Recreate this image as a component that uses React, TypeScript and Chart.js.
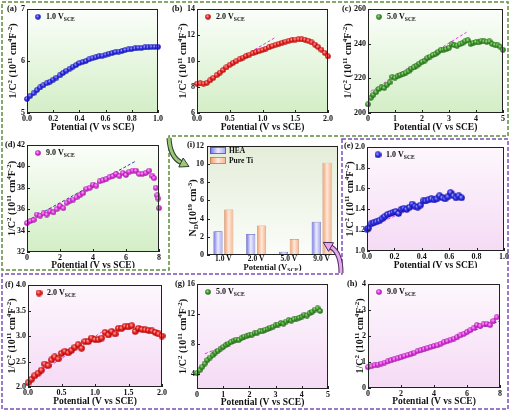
import { useEffect, useRef } from 'react';
import { Chart, registerables } from 'chart.js';

Chart.register(...registerables);

const SERIF = "'Liberation Serif', 'Times New Roman', serif";

// ---- data: Mott-Schottky curves, HEA (a-d) and pure Ti (e-h) ----
const potA = [0, 0.025, 0.05, 0.075, 0.1, 0.125, 0.15, 0.175, 0.2, 0.225, 0.25, 0.275, 0.3, 0.325, 0.35, 0.375, 0.4, 0.425, 0.45, 0.475, 0.5, 0.525, 0.55, 0.575, 0.6, 0.625, 0.65, 0.675, 0.7, 0.725, 0.75, 0.775, 0.8, 0.825, 0.85, 0.875, 0.9, 0.925, 0.95, 0.975, 1.0];
const invC2A = [5.27, 5.33, 5.38, 5.44, 5.49, 5.53, 5.57, 5.6, 5.64, 5.68, 5.72, 5.77, 5.81, 5.85, 5.89, 5.92, 5.96, 5.98, 6.0, 6.03, 6.05, 6.07, 6.09, 6.1, 6.12, 6.14, 6.15, 6.17, 6.18, 6.19, 6.21, 6.22, 6.23, 6.24, 6.25, 6.25, 6.26, 6.26, 6.27, 6.27, 6.27];
const fitPotA = [0.25, 0.55];
const fitA = [5.74, 6.13];

const pot0to2 = [0, 0.05, 0.1, 0.15, 0.2, 0.25, 0.3, 0.35, 0.4, 0.45, 0.5, 0.55, 0.6, 0.65, 0.7, 0.75, 0.8, 0.85, 0.9, 0.95, 1.0, 1.05, 1.1, 1.15, 1.2, 1.25, 1.3, 1.35, 1.4, 1.45, 1.5, 1.55, 1.6, 1.65, 1.7, 1.75, 1.8, 1.85, 1.9, 1.95, 2.0];
const invC2B = [8.25, 8.27, 8.26, 8.32, 8.5, 8.7, 8.9, 9.1, 9.3, 9.5, 9.7, 9.85, 9.98, 10.12, 10.25, 10.38, 10.48, 10.58, 10.68, 10.76, 10.84, 10.94, 11.04, 11.14, 11.24, 11.32, 11.4, 11.48, 11.55, 11.6, 11.64, 11.66, 11.65, 11.62, 11.55, 11.42, 11.25, 11.06, 10.86, 10.62, 10.35];
const fitPotB = [0.55, 1.18];
const fitB = [9.9, 11.75];

const potC = [0, 0.1, 0.2, 0.3, 0.4, 0.5, 0.6, 0.7, 0.8, 0.9, 1.0, 1.1, 1.2, 1.3, 1.4, 1.5, 1.6, 1.7, 1.8, 1.9, 2.0, 2.1, 2.2, 2.3, 2.4, 2.5, 2.6, 2.7, 2.8, 2.9, 3.0, 3.1, 3.2, 3.3, 3.4, 3.5, 3.6, 3.7, 3.8, 3.9, 4.0, 4.1, 4.2, 4.3, 4.4, 4.5, 4.6, 4.7, 4.8, 4.9, 5.0];
const invC2C = [205.0, 208.8, 210.5, 212.0, 213.8, 214.8, 214.5, 216.3, 217.6, 220.8, 220.4, 221.2, 221.9, 222.5, 223.2, 224.0, 225.6, 226.2, 227.3, 228.4, 229.5, 230.2, 231.6, 232.5, 233.4, 234.0, 235.2, 236.4, 236.5, 236.8, 237.6, 239.5, 239.0, 238.8, 239.6, 240.2, 241.3, 241.8, 239.8, 240.5, 240.9, 240.6, 241.6, 241.2, 241.0, 241.2, 239.8, 239.3, 239.0, 238.2, 236.4];
const fitPotC = [0.1, 3.65];
const fitC = [212.5, 246.5];

const potD = [0, 0.2, 0.4, 0.6, 0.8, 1.0, 1.2, 1.4, 1.6, 1.8, 2.0, 2.2, 2.4, 2.6, 2.8, 3.0, 3.2, 3.4, 3.6, 3.8, 4.0, 4.2, 4.4, 4.6, 4.8, 5.0, 5.2, 5.4, 5.6, 5.8, 6.0, 6.2, 6.4, 6.6, 6.8, 7.0, 7.2, 7.4, 7.6, 7.7, 7.8, 7.9, 7.95, 8.0];
const invC2D = [34.7, 34.9, 35.0, 35.5, 35.4, 35.6, 35.5, 35.8, 35.7, 36.0, 36.3, 36.1, 36.6, 36.8, 36.9, 37.1, 37.3, 37.5, 37.9, 38.0, 38.3, 38.2, 38.6, 38.7, 38.8, 39.0, 39.1, 39.3, 39.1, 39.4, 39.2, 39.5, 39.6, 39.6, 39.3, 39.3, 39.4, 39.6, 39.1, 38.9, 38.0, 37.3, 37.0, 36.1];
const fitPotD = [0, 6.6];
const fitD = [34.9, 40.5];

const potE = [0, 0.01, 0.03, 0.05, 0.07, 0.09, 0.11, 0.13, 0.15, 0.17, 0.19, 0.21, 0.23, 0.25, 0.27, 0.29, 0.31, 0.33, 0.35, 0.37, 0.39, 0.41, 0.43, 0.45, 0.47, 0.49, 0.51, 0.53, 0.55, 0.57, 0.59, 0.61, 0.63, 0.65, 0.67, 0.69];
const invC2E = [1.21, 1.22, 1.26, 1.27, 1.28, 1.29, 1.31, 1.33, 1.35, 1.36, 1.37, 1.38, 1.36, 1.4, 1.41, 1.4, 1.42, 1.45, 1.43, 1.42, 1.44, 1.48, 1.48, 1.49, 1.5, 1.49, 1.5, 1.53, 1.51, 1.5, 1.52, 1.56, 1.53, 1.51, 1.53, 1.51];
const fitPotE = [0.05, 0.65];
const fitE = [1.25, 1.58];

const invC2F = [2.08, 2.15, 2.22, 2.27, 2.33, 2.45, 2.42, 2.53, 2.59, 2.55, 2.66, 2.7, 2.67, 2.72, 2.78, 2.83, 2.76, 2.89, 2.89, 2.96, 2.93, 2.93, 2.96, 3.07, 3.02, 3.09, 3.04, 3.15, 3.15, 3.19, 3.18, 3.2, 3.09, 3.15, 3.13, 3.12, 3.11, 3.1, 3.07, 3.04, 3.0];
const fitPotF = [0.2, 1.15];
const fitF = [2.3, 3.12];

const potG = [0, 0.1, 0.2, 0.3, 0.4, 0.5, 0.6, 0.7, 0.8, 0.9, 1.0, 1.1, 1.2, 1.3, 1.4, 1.5, 1.6, 1.7, 1.8, 1.9, 2.0, 2.1, 2.2, 2.3, 2.4, 2.5, 2.6, 2.7, 2.8, 2.9, 3.0, 3.1, 3.2, 3.3, 3.4, 3.5, 3.6, 3.7, 3.8, 3.9, 4.0, 4.1, 4.2, 4.3, 4.4, 4.5, 4.6, 4.7];
const invC2G = [4.1, 4.5, 4.95, 5.4, 5.85, 6.2, 6.5, 6.85, 7.1, 7.4, 7.6, 7.85, 8.05, 8.25, 8.45, 8.6, 8.55, 8.8, 9.0, 9.05, 9.2, 9.25, 9.45, 9.5, 9.7, 9.7, 9.9, 10.0, 10.2, 10.3, 10.5, 10.6, 10.8, 10.7, 11.0, 11.2, 11.1, 11.3, 11.4, 11.5, 11.65, 11.9, 11.8, 12.1, 12.3, 12.6, 12.75, 12.4];
const fitPotG = [0.3, 4.7];
const fitG = [6.7, 12.9];

const potH = [0, 0.2, 0.4, 0.6, 0.8, 1.0, 1.2, 1.4, 1.6, 1.8, 2.0, 2.2, 2.4, 2.6, 2.8, 3.0, 3.2, 3.4, 3.6, 3.8, 4.0, 4.2, 4.4, 4.6, 4.8, 5.0, 5.2, 5.4, 5.6, 5.8, 6.0, 6.2, 6.4, 6.6, 6.8, 7.0, 7.2, 7.4, 7.6, 7.8];
const invC2H = [0.8, 0.83, 0.87, 0.9, 0.94, 0.98, 1.02, 1.06, 1.1, 1.14, 1.18, 1.23, 1.27, 1.31, 1.36, 1.42, 1.45, 1.49, 1.53, 1.58, 1.62, 1.64, 1.7, 1.76, 1.8, 1.86, 1.9, 1.95, 2.02, 2.08, 2.15, 2.22, 2.3, 2.42, 2.38, 2.45, 2.47, 2.42, 2.58, 2.72];
const fitPotH = [2.5, 8.0];
const fitH = [1.3, 2.58];

// ---- data: donor density (i) ----
const formPotentials = ['1.0 V', '2.0 V', '5.0 V', '9.0 V'];
const ndHEA = [2.6, 2.3, 0.35, 3.65];
const ndTi = [5.0, 3.25, 1.75, 10.15];
const ndTicks = [0, 2, 4, 6, 8, 10, 12];

type Seg = [string, number]; // 0 normal, 1 superscript, -1 subscript

const yTitleC2: Seg[] = [['1/C', 0], ['2', 1], [' (10', 0], ['11', 1], [' cm', 0], ['4', 1], ['F', 0], ['-2', 1], [')', 0]];
const xTitlePot: Seg[] = [['Potential (V vs SCE)', 0]];
const yTitleNd: Seg[] = [['N', 0], ['D', -1], ['(10', 0], ['19', 1], [' cm', 0], ['-3', 1], [')', 0]];
const xTitleSce: Seg[] = [['Potential (V', 0], ['SCE', -1], [')', 0]];

function segFont(size: number, kind: number) {
  return `bold ${kind === 0 ? size : size * 0.7}px ${SERIF}`;
}

function drawRich(ctx: CanvasRenderingContext2D, segs: Seg[], size: number, x: number, y: number, align: 'left' | 'center', vertical: boolean) {
  ctx.save();
  ctx.translate(x, y);
  if (vertical) ctx.rotate(-Math.PI / 2);
  let total = 0;
  for (const [t, k] of segs) {
    ctx.font = segFont(size, k);
    total += ctx.measureText(t).width;
  }
  let cx = align === 'center' ? -total / 2 : 0;
  ctx.textBaseline = 'middle';
  ctx.textAlign = 'left';
  ctx.fillStyle = '#111';
  for (const [t, k] of segs) {
    ctx.font = segFont(size, k);
    const dy = k === 1 ? -size * 0.32 : k === -1 ? size * 0.3 : 0;
    ctx.fillText(t, cx, dy);
    cx += ctx.measureText(t).width;
  }
  ctx.restore();
}

const BALLS = {
  blue: ['#b0b0ff', '#2a2ae8', '#10109a'],
  red: ['#ffb4b4', '#ee2020', '#a00000'],
  green: ['#b0e098', '#3a9a28', '#1a5a10'],
  magenta: ['#ffb8ff', '#e030e0', '#901090'],
};

function makeBall(colors: string[], d: number) {
  const c = document.createElement('canvas');
  c.width = d;
  c.height = d;
  const g = c.getContext('2d')!;
  const r = d / 2;
  const grad = g.createRadialGradient(r * 0.75, r * 0.7, 0.2, r, r, r);
  grad.addColorStop(0, colors[0]);
  grad.addColorStop(0.5, colors[1]);
  grad.addColorStop(1, colors[2]);
  g.fillStyle = grad;
  g.beginPath();
  g.arc(r, r, r - 0.2, 0, Math.PI * 2);
  g.fill();
  return c;
}

interface ScatterSpec {
  tag: string;
  tagPos: [number, number];
  legend: string;
  box: [number, number, number, number];
  area: [number, number, number, number];
  xs: number[];
  ys: number[];
  fitXs: number[];
  fitYs: number[];
  xTicks: number[];
  yTicks: number[];
  yMin: number;
  xDec: number;
  yDec: number;
  ball: string[];
  ballSize: number;
  fitColor: string;
  bg: [string, string];
  yTitleX: number;
  xTitleY: number;
}

const GREEN_BG: [string, string] = ['#fbfefa', '#d3eec6'];
const PINK_BG: [string, string] = ['#fdf7fd', '#f5dbf5'];
const PINK_FIT = '#e040e0';
const BLUE_FIT = '#3434d0';

const panels: ScatterSpec[] = [
  { tag: '(a)', tagPos: [7, 9], legend: '1.0 V', box: [3, 2, 167, 132], area: [27, 8, 158, 113], xs: potA, ys: invC2A, fitXs: fitPotA, fitYs: fitA, xTicks: [0, 0.2, 0.4, 0.6, 0.8, 1.0], yTicks: [5, 6, 7], yMin: 5, xDec: 1, yDec: 0, ball: BALLS.blue, ballSize: 6, fitColor: PINK_FIT, bg: GREEN_BG, yTitleX: 13, xTitleY: 128 },
  { tag: '(b)', tagPos: [172, 9], legend: '2.0 V', box: [172, 2, 166, 132], area: [197, 8, 328, 113], xs: pot0to2, ys: invC2B, fitXs: fitPotB, fitYs: fitB, xTicks: [0, 0.5, 1.0, 1.5, 2.0], yTicks: [6, 8, 10, 12, 14], yMin: 6, xDec: 1, yDec: 0, ball: BALLS.red, ballSize: 6, fitColor: PINK_FIT, bg: GREEN_BG, yTitleX: 183, xTitleY: 128 },
  { tag: '(c)', tagPos: [342, 9], legend: '5.0 V', box: [340, 2, 171, 132], area: [368, 8, 503, 113], xs: potC, ys: invC2C, fitXs: fitPotC, fitYs: fitC, xTicks: [0, 1, 2, 3, 4, 5], yTicks: [200, 220, 240, 260], yMin: 200, xDec: 0, yDec: 0, ball: BALLS.green, ballSize: 6, fitColor: PINK_FIT, bg: GREEN_BG, yTitleX: 348, xTitleY: 128 },
  { tag: '(d)', tagPos: [5, 145], legend: '9.0 V', box: [3, 137, 167, 131], area: [27, 145, 159, 252], xs: potD, ys: invC2D, fitXs: fitPotD, fitYs: fitD, xTicks: [0, 2, 4, 6, 8], yTicks: [32, 34, 36, 38, 40, 42], yMin: 32, xDec: 0, yDec: 0, ball: BALLS.magenta, ballSize: 6, fitColor: BLUE_FIT, bg: GREEN_BG, yTitleX: 12, xTitleY: 265.5 },
  { tag: '(e)', tagPos: [344, 146], legend: '1.0 V', box: [343, 140, 168, 128], area: [367, 145, 504, 251], xs: potE, ys: invC2E, fitXs: fitPotE, fitYs: fitE, xTicks: [0, 0.2, 0.4, 0.6, 0.8, 1.0], yTicks: [1.0, 1.2, 1.4, 1.6, 1.8, 2.0], yMin: 1, xDec: 1, yDec: 1, ball: BALLS.blue, ballSize: 7, fitColor: PINK_FIT, bg: PINK_BG, yTitleX: 350, xTitleY: 266 },
  { tag: '(f)', tagPos: [5, 285], legend: '2.0 V', box: [3, 275, 166, 134], area: [28, 285, 162, 387], xs: pot0to2, ys: invC2F, fitXs: fitPotF, fitYs: fitF, xTicks: [0, 0.5, 1.0, 1.5, 2.0], yTicks: [2.0, 2.5, 3.0, 3.5, 4.0], yMin: 2, xDec: 1, yDec: 1, ball: BALLS.red, ballSize: 7, fitColor: PINK_FIT, bg: PINK_BG, yTitleX: 12, xTitleY: 402 },
  { tag: '(g)', tagPos: [175, 284], legend: '5.0 V', box: [170, 275, 168, 134], area: [197, 284, 328, 389], xs: potG, ys: invC2G, fitXs: fitPotG, fitYs: fitG, xTicks: [0, 1, 2, 3, 4, 5], yTicks: [4, 8, 12, 16], yMin: 2, xDec: 0, yDec: 0, ball: BALLS.green, ballSize: 6, fitColor: PINK_FIT, bg: PINK_BG, yTitleX: 183, xTitleY: 403 },
  { tag: '(h)', tagPos: [347, 284], legend: '9.0 V', box: [340, 275, 171, 134], area: [368, 284, 500, 388], xs: potH, ys: invC2H, fitXs: fitPotH, fitYs: fitH, xTicks: [0, 2, 4, 6, 8], yTicks: [0, 1, 2, 3, 4], yMin: 0, xDec: 0, yDec: 0, ball: BALLS.magenta, ballSize: 6, fitColor: BLUE_FIT, bg: PINK_BG, yTitleX: 360, xTitleY: 402 },
];

const TICK_FONT = { family: SERIF, size: 8, weight: 'bold' as const };

function frameAndTicks(chart: Chart, xTicksToo: boolean) {
  const { ctx, chartArea: a } = chart;
  ctx.save();
  ctx.strokeStyle = '#222';
  ctx.lineWidth = 1;
  ctx.strokeRect(Math.round(a.left) + 0.5, Math.round(a.top) + 0.5, Math.round(a.width) - 1, Math.round(a.height) - 1);
  ctx.beginPath();
  const ys = chart.scales.y;
  for (const t of ys.ticks) {
    const py = Math.round(ys.getPixelForValue(t.value)) + 0.5;
    ctx.moveTo(a.left, py);
    ctx.lineTo(a.left + 3, py);
  }
  if (xTicksToo) {
    const xs = chart.scales.x;
    for (const t of xs.ticks) {
      const px = Math.round(xs.getPixelForValue(t.value)) + 0.5;
      ctx.moveTo(px, a.bottom);
      ctx.lineTo(px, a.bottom - 3);
    }
  }
  ctx.stroke();
  ctx.restore();
}

function fillArea(chart: Chart, top: string, bottom: string) {
  const { ctx, chartArea: a } = chart;
  const g = ctx.createLinearGradient(0, a.top, 0, a.bottom);
  g.addColorStop(0, top);
  g.addColorStop(1, bottom);
  ctx.save();
  ctx.fillStyle = g;
  ctx.fillRect(a.left, a.top, a.width, a.height);
  ctx.restore();
}

function ScatterPanel({ spec }: { spec: ScatterSpec }) {
  const ref = useRef<HTMLCanvasElement>(null);
  const [bl, bt, bw, bh] = spec.box;

  useEffect(() => {
    if (!ref.current) return;
    const s = spec;
    const [ax0, ay0, ax1, ay1] = s.area;
    const ball = makeBall(s.ball, s.ballSize);

    const deco = {
      id: 'deco',
      beforeDraw(chart: Chart) {
        fillArea(chart, s.bg[0], s.bg[1]);
      },
      afterDraw(chart: Chart) {
        const { ctx, chartArea: a } = chart;
        frameAndTicks(chart, true);
        drawRich(ctx, yTitleC2, 10, s.yTitleX - bl, (a.top + a.bottom) / 2, 'center', true);
        drawRich(ctx, xTitlePot, 9.5, (a.left + a.right) / 2, s.xTitleY - bt, 'center', false);
        drawRich(ctx, [[s.tag, 0]], 8.5, s.tagPos[0] - bl, s.tagPos[1] - bt, 'left', false);
        ctx.drawImage(ball, a.left + 11 - s.ballSize / 2, a.top + 8 - s.ballSize / 2);
        drawRich(ctx, [[s.legend, 0], ['SCE', -1]], 8, a.left + 19, a.top + 8, 'left', false);
      },
    };

    const chart = new Chart(ref.current, {
      type: 'scatter',
      data: {
        datasets: [
          {
            data: s.xs.map((x, i) => ({ x, y: s.ys[i] })),
            pointStyle: ball,
            pointRadius: 3,
            clip: 4,
          },
          {
            data: s.fitXs.map((x, i) => ({ x, y: s.fitYs[i] })),
            showLine: true,
            borderColor: s.fitColor,
            borderWidth: 1,
            borderDash: [3, 2],
            pointRadius: 0,
          },
        ],
      },
      options: {
        animation: false,
        responsive: true,
        maintainAspectRatio: false,
        layout: { padding: { left: 0, top: ay0 - bt, right: bl + bw - ax1, bottom: 0 } },
        plugins: { legend: { display: false }, tooltip: { enabled: false } },
        scales: {
          x: {
            type: 'linear',
            min: s.xTicks[0],
            max: s.xTicks[s.xTicks.length - 1],
            grid: { display: false, drawTicks: false },
            border: { display: false },
            afterBuildTicks: (sc: any) => { sc.ticks = s.xTicks.map((v) => ({ value: v })); },
            afterFit: (sc: any) => { sc.height = bt + bh - ay1; },
            ticks: { font: TICK_FONT, color: '#111', padding: 1.5, maxRotation: 0, autoSkip: false, callback: (v) => Number(v).toFixed(s.xDec) },
          },
          y: {
            type: 'linear',
            min: s.yMin,
            max: s.yTicks[s.yTicks.length - 1],
            grid: { display: false, drawTicks: false },
            border: { display: false },
            afterBuildTicks: (sc: any) => { sc.ticks = s.yTicks.map((v) => ({ value: v })); },
            afterFit: (sc: any) => { sc.width = ax0 - bl; },
            ticks: { font: TICK_FONT, color: '#111', padding: 2, autoSkip: false, callback: (v) => Number(v).toFixed(s.yDec) },
          },
        },
      },
      plugins: [deco],
    });
    return () => chart.destroy();
  }, [spec]);

  return (
    <div style={{ position: 'absolute', left: bl, top: bt, width: bw, height: bh }}>
      <canvas ref={ref} />
    </div>
  );
}

const CAT_PCT = 0.66;
const BAR_PCT = 0.85;
const HEA_STOPS = ['#6c6ce6', '#ececfe', '#a4a4f0'];
const TI_STOPS = ['#f29a68', '#fee8da', '#f4b48c'];

function barFill(stops: string[], di: number) {
  return (c: any) => {
    const chart = c.chart;
    const xs = chart.scales?.x;
    if (!chart.chartArea || !xs || c.dataIndex === undefined) return stops[1];
    const cw = xs.width / formPotentials.length;
    const slot = (cw * CAT_PCT) / 2;
    const w = slot * BAR_PCT;
    const cx = xs.getPixelForValue(c.dataIndex) - (cw * CAT_PCT) / 2 + slot * (di + 0.5);
    const g = chart.ctx.createLinearGradient(cx - w / 2, 0, cx + w / 2, 0);
    g.addColorStop(0, stops[0]);
    g.addColorStop(0.5, stops[1]);
    g.addColorStop(1, stops[2]);
    return g;
  };
}

function BarPanel() {
  const ref = useRef<HTMLCanvasElement>(null);
  const box = [172, 138, 168, 133];
  const area = [207, 144, 338, 255];

  useEffect(() => {
    if (!ref.current) return;
    const [bl, bt, bw, bh] = box;
    const [ax0, ay0, ax1, ay1] = area;

    const legendBox = (ctx: CanvasRenderingContext2D, x: number, y: number, stops: string[], edge: string) => {
      const g = ctx.createLinearGradient(x, 0, x + 16, 0);
      g.addColorStop(0, stops[0]);
      g.addColorStop(0.5, stops[1]);
      g.addColorStop(1, stops[2]);
      ctx.fillStyle = g;
      ctx.fillRect(x, y, 16, 7);
      ctx.strokeStyle = edge;
      ctx.lineWidth = 0.8;
      ctx.strokeRect(x + 0.4, y + 0.4, 15.2, 6.2);
    };

    const deco = {
      id: 'deco',
      beforeDraw(chart: Chart) {
        fillArea(chart, '#e4edd9', '#fbfdf9');
      },
      afterDraw(chart: Chart) {
        const { ctx, chartArea: a } = chart;
        frameAndTicks(chart, false);
        drawRich(ctx, yTitleNd, 10, 193 - bl, 208 - bt, 'center', true);
        drawRich(ctx, xTitleSce, 8.5, (a.left + a.right) / 2, 267.5 - bt, 'center', false);
        drawRich(ctx, [['(i)', 0]], 8.5, 187 - bl, 145 - bt, 'left', false);
        ctx.save();
        legendBox(ctx, 210 - bl, 147 - bt, HEA_STOPS, '#5050b0');
        legendBox(ctx, 210 - bl, 157 - bt, TI_STOPS, '#c07850');
        ctx.restore();
        drawRich(ctx, [['HEA', 0]], 7.5, 229 - bl, 151 - bt, 'left', false);
        drawRich(ctx, [['Pure Ti', 0]], 7.5, 229 - bl, 161 - bt, 'left', false);
      },
    };

    const chart = new Chart(ref.current, {
      type: 'bar',
      data: {
        labels: formPotentials,
        datasets: [
          { label: 'HEA', data: ndHEA, backgroundColor: barFill(HEA_STOPS, 0), borderColor: '#5a5ab8', borderWidth: 0.7, categoryPercentage: CAT_PCT, barPercentage: BAR_PCT },
          { label: 'Pure Ti', data: ndTi, backgroundColor: barFill(TI_STOPS, 1), borderColor: '#c8805a', borderWidth: 0.7, categoryPercentage: CAT_PCT, barPercentage: BAR_PCT },
        ],
      },
      options: {
        animation: false,
        responsive: true,
        maintainAspectRatio: false,
        layout: { padding: { left: 0, top: ay0 - bt, right: bl + bw - ax1, bottom: 0 } },
        plugins: { legend: { display: false }, tooltip: { enabled: false } },
        scales: {
          x: {
            grid: { display: false, drawTicks: false },
            border: { display: false },
            afterFit: (sc: any) => { sc.height = bt + bh - ay1; },
            ticks: { font: { family: SERIF, size: 7.5, weight: 'bold' }, color: '#111', padding: 0, maxRotation: 0, autoSkip: false },
          },
          y: {
            min: 0,
            max: 12,
            grid: { display: false, drawTicks: false },
            border: { display: false },
            afterBuildTicks: (sc: any) => { sc.ticks = ndTicks.map((v) => ({ value: v })); },
            afterFit: (sc: any) => { sc.width = ax0 - bl; },
            ticks: { font: TICK_FONT, color: '#111', padding: 3, autoSkip: false },
          },
        },
      },
      plugins: [deco],
    });
    return () => chart.destroy();
  }, []);

  return (
    <div style={{ position: 'absolute', left: box[0], top: box[1], width: box[2], height: box[3] }}>
      <canvas ref={ref} />
    </div>
  );
}

export default function App() {
  return (
    <div style={{ position: 'absolute', left: 0, top: 0, width: 511, height: 412, background: '#fff', overflow: 'hidden' }}>
      {panels.map((p) => (
        <ScatterPanel key={p.tag} spec={p} />
      ))}
      <BarPanel />
      <svg width={511} height={412} style={{ position: 'absolute', left: 0, top: 0, pointerEvents: 'none' }}>
        <path d="M2 2 H508 V136 H169 V270 H2 Z" fill="none" stroke="#5e8f3c" strokeWidth={1.5} strokeDasharray="4 2" />
        <path d="M342 139 H508 V409 H2 V274 H342 Z" fill="none" stroke="#7b4fb8" strokeWidth={1.5} strokeDasharray="4 2" />
        <path d="M169 138 Q170 157 181 162.5" fill="none" stroke="#2d3d2d" strokeWidth={5} />
        <path d="M169 138 Q170 157 181 162.5" fill="none" stroke="#9cc878" strokeWidth={3} />
        <polygon points="189,166.5 178.8,167 183.2,158" fill="#9cc878" stroke="#2d3d2d" strokeWidth={1} />
        <path d="M341 273 Q341 253 331 247" fill="none" stroke="#4a2a5a" strokeWidth={5} />
        <path d="M341 273 Q341 253 331 247" fill="none" stroke="#e8a8f0" strokeWidth={3} />
        <polygon points="323.3,242.4 333.5,242.7 328.5,251.3" fill="#e8a8f0" stroke="#4a2a5a" strokeWidth={1} />
      </svg>
    </div>
  );
}
